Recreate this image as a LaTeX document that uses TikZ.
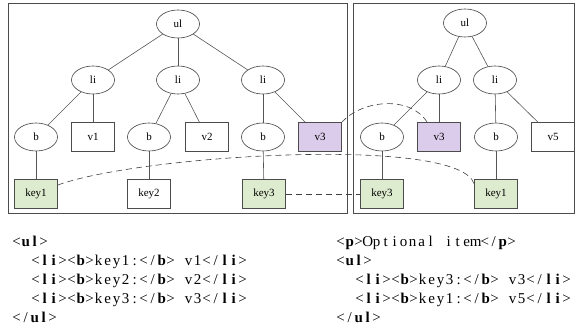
\documentclass[tikz,border=0pt]{standalone}
\usepackage{fontspec}
\setmainfont{Liberation Serif}
\usetikzlibrary{shapes.geometric}
\definecolor{keygreen}{HTML}{DDEBCF}
\definecolor{valpurple}{HTML}{DCCCEB}
\definecolor{edgegray}{HTML}{555555}
\newlength\cw \setlength\cw{9pt}
\newcommand\cg[1]{\makebox[\cw][c]{#1}}
\def\csend{CSENDMARK}
\def\cs#1{\csx#1\csend}
\def\csx#1{\ifx\csend#1\else\cg{#1}\expandafter\csx\fi}
\let\B\bfseries
\begin{document}
\begin{tikzpicture}[x=1pt,y=-1pt,
  ell/.style={draw=black!75, fill=white, ellipse, minimum width=43pt, minimum height=28pt, inner sep=0pt, line width=0.6pt, font=\fontsize{11}{13}\selectfont},
  box/.style={draw=black!70, fill=white, rectangle, minimum width=43pt, minimum height=29pt, inner sep=0pt, line width=0.7pt, font=\fontsize{11}{13}\selectfont},
  keybox/.style={box, fill=keygreen},
  valbox/.style={box, fill=valpurple},
  tedge/.style={draw=edgegray, line width=0.6pt},
  dlink/.style={draw=black!75, dash pattern=on 6pt off 4pt, line width=0.6pt},
  panel/.style={draw=black!70, line width=0.8pt},
  code/.style={anchor=base west, inner sep=0pt, font=\fontsize{15}{18}\selectfont}]
\useasboundingbox (0,0) rectangle (576,329);
% panels
\draw[panel] (8,3) rectangle (347,213);
\draw[panel] (353,3) rectangle (574.5,213);
% left tree
\node[ell] (ulL) at (178,24) {ul};
\node[ell] (liA) at (93,80) {li};
\node[ell] (liB) at (178,80) {li};
\node[ell] (liC) at (263,80) {li};
\node[ell] (bA) at (36,137) {b};
\node[box] (v1) at (93,137) {v1};
\node[ell] (bB) at (149,137) {b};
\node[box] (v2) at (207,137) {v2};
\node[ell] (bC) at (263,137) {b};
\node[valbox] (v3L) at (320,137) {v3};
\node[keybox] (key1L) at (36,194) {key1};
\node[box] (key2) at (149,194) {key2};
\node[keybox] (key3L) at (264,194) {key3};
% right tree
\node[ell] (ulR) at (465,23) {ul};
\node[ell] (liD) at (439,80) {li};
\node[ell] (liE) at (495,80) {li};
\node[ell] (bD) at (382,137) {b};
\node[valbox] (v3R) at (439,137) {v3};
\node[ell] (bE) at (496,137) {b};
\node[box] (v5) at (553,137) {v5};
\node[keybox] (key3R) at (382,194) {key3};
\node[keybox] (key1R) at (496,194) {key1};
% edges
\draw[tedge] (ulL) -- (liA);
\draw[tedge] (ulL) -- (liB);
\draw[tedge] (ulL) -- (liC);
\draw[tedge] (liA) -- (bA);
\draw[tedge] (liA) -- (v1);
\draw[tedge] (liB) -- (bB);
\draw[tedge] (liB) -- (v2);
\draw[tedge] (liC) -- (bC);
\draw[tedge] (liC) -- (v3L);
\draw[tedge] (bA) -- (key1L);
\draw[tedge] (bB) -- (key2);
\draw[tedge] (bC) -- (key3L);
\draw[tedge] (ulR) -- (liD);
\draw[tedge] (ulR) -- (liE);
\draw[tedge] (liD) -- (bD);
\draw[tedge] (liD) -- (v3R);
\draw[tedge] (liE) -- (bE);
\draw[tedge] (liE) -- (v5);
\draw[tedge] (bD) -- (key3R);
\draw[tedge] (bE) -- (key1R);
% dashed links
\draw[dlink] ([yshift=9pt]key1L.east) .. controls (140,155) and (460,135) .. ([yshift=10pt]key1R.west);
\draw[dlink] (v3L.north east) .. controls (362,100) and (410,95) .. ([xshift=10pt]v3R.north west);
\draw[dlink] (key3L.east) -- (key3R.west);
% code
\node[code] (c1) at (12,246) {\cs{<{\B u}{\B l}>}};
\node[code] (c2) at (31,265) {\cs{<{\B l}{\B i}><{\B b}>key1:</{\B b}>~v1</{\B l}{\B i}>}};
\node[code] (c3) at (31,284) {\cs{<{\B l}{\B i}><{\B b}>key2:</{\B b}>~v2</{\B l}{\B i}>}};
\node[code] (c4) at (31,303) {\cs{<{\B l}{\B i}><{\B b}>key3:</{\B b}>~v3</{\B l}{\B i}>}};
\node[code] (c5) at (12,322) {\cs{</{\B u}{\B l}>}};
\node[code] (d1) at (336,246) {\cs{<{\B p}>Optional~item</{\B p}>}};
\node[code] (d2) at (336,265) {\cs{<{\B u}{\B l}>}};
\node[code] (d3) at (355,284) {\cs{<{\B l}{\B i}><{\B b}>key3:</{\B b}>~v3</{\B l}{\B i}>}};
\node[code] (d4) at (355,303) {\cs{<{\B l}{\B i}><{\B b}>key1:</{\B b}>~v5</{\B l}{\B i}>}};
\node[code] (d5) at (336,322) {\cs{</{\B u}{\B l}>}};
\end{tikzpicture}
\end{document}
